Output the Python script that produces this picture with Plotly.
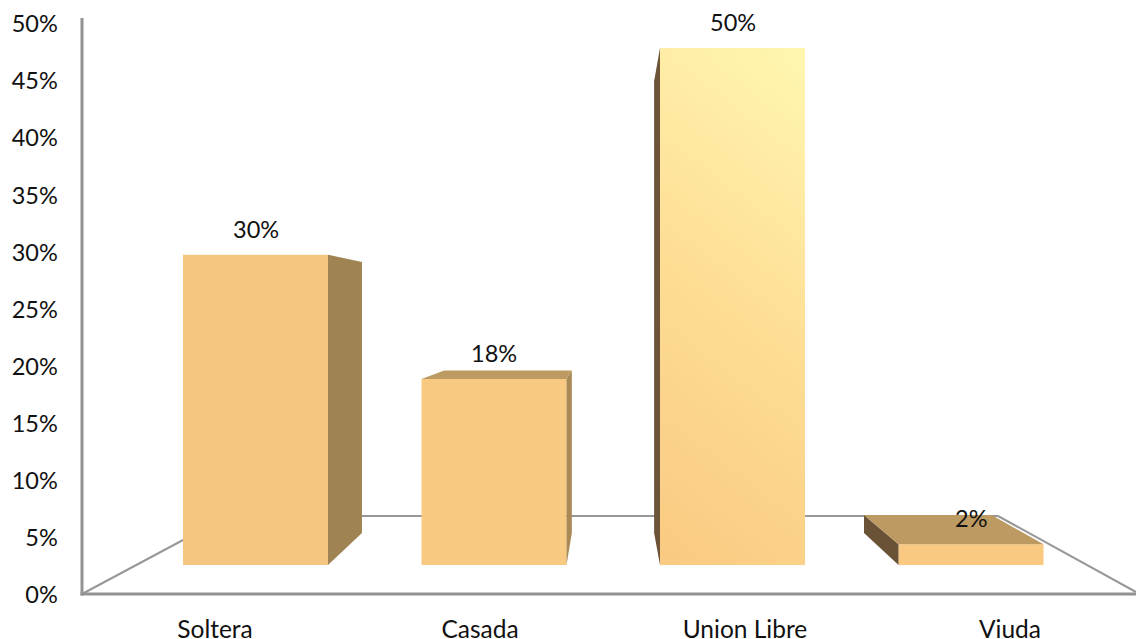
import plotly.graph_objects as go

categories = ["Soltera", "Casada", "Union Libre", "Viuda"]
values = [30, 18, 50, 2]
label_texts = ["30%", "18%", "50%", "2%"]
y_ticks = [0, 5, 10, 15, 20, 25, 30, 35, 40, 45, 50]

FONT = "Lato, Carlito, Calibri, sans-serif"
positions = list(range(len(categories)))
BAR_W = 0.608
VX, VY, KX, KY = 1.4906, 24.47, 0.88, 0.874   # vanishing point of the 3D box, in bar-axis units


def back(x, y):
    return VX + (x - VX) * KX, VY + (y - VY) * KY


front_cols = ["#F5C681", "#F8C981", "#F9C981", "#F9C981"]
side_right = ["#A08352", "#A98A55", None, None]
side_left = [None, None, "#6B5438", "#6A5236"]
top_col = "#BC9A62"

fig = go.Figure()

# invisible carrier for the category axis
fig.add_trace(go.Scatter(x=positions, y=[0] * 4, mode="markers", marker=dict(opacity=0),
                         xaxis="x", yaxis="y", showlegend=False, hoverinfo="skip"))

fig.add_trace(go.Bar(x=positions, y=values, width=BAR_W, marker=dict(color=front_cols, line=dict(width=0)),
                     xaxis="x2", yaxis="y2", showlegend=False, hoverinfo="skip"))

for i, (p, v) in enumerate(zip(positions, values)):
    l, r = p - BAR_W / 2, p + BAR_W / 2
    polys = []
    if side_right[i]:
        pts = [(r, 0), (r, v), back(r, v), back(r, 0)]
        polys.append((pts, side_right[i]))
    if side_left[i]:
        pts = [(l, 0), (l, v), back(l, v), back(l, 0)]
        polys.append((pts, side_left[i]))
    if v < VY:
        pts = [(l, v), (r, v), back(r, v), back(l, v)]
        polys.append((pts, top_col))
    for pts, col in polys:
        fig.add_trace(go.Scatter(x=[a for a, _ in pts] + [pts[0][0]], y=[b for _, b in pts] + [pts[0][1]],
                                 mode="lines", fill="toself", fillcolor=col, line=dict(width=0),
                                 xaxis="x2", yaxis="y2", showlegend=False, hoverinfo="skip"))

# light gradient on the tallest bar
ui = values.index(max(values))
l, r, v = positions[ui] - BAR_W / 2, positions[ui] + BAR_W / 2, values[ui]
nx, ny = 8, 24
gx = [l + (r - l) * k / nx for k in range(nx + 1)]
gy = [v * k / ny for k in range(ny + 1)]
gz = [[(j + .5) / ny * 0.82 + (k + .5) / nx * 0.18 for k in range(nx)] for j in range(ny)]
fig.add_trace(go.Heatmap(x=gx, y=gy, z=gz, zmin=0, zmax=1, zsmooth="best", showscale=False,
                         colorscale=[[0, "#F9C981"], [0.5, "#FEDD95"], [1, "#FFF7B0"]],
                         xaxis="x3", yaxis="y3", hoverinfo="skip"))

W, H = 1136, 639
PL, PB, PT = 82.0, 595.0, 18.0
PW, PH = W - PL, PB - PT
xr = [(PL - 215) / 265, 3 + (W - 1010) / 265]
yr = [0, (PB - PT) / 11.42]
x2r = [(PL - 255.5) / 238.5, 3 + (W - 971) / 238.5]
y2r = [-(PB - 565) / 10.34, (565 - PT) / 10.34]

GRAY = "#929292"
fx = lambda px: (px - PL) / PW
fy = lambda py: (PB - py) / PH
floor = [(82, 594), (228, 516), (998, 516), (1136, 592)]
shapes = [dict(type="line", xref="paper", yref="paper", layer="below",
               x0=fx(a[0]), y0=fy(a[1]), x1=fx(b[0]), y1=fy(b[1]),
               line=dict(color="#989898", width=2))
          for a, b in zip(floor[:-1], floor[1:])]
# axis lines
shapes += [dict(type="line", xref="paper", yref="paper", layer="below",
                x0=fx(82), y0=fy(595.5), x1=fx(82), y1=fy(18), line=dict(color=GRAY, width=3)),
           dict(type="line", xref="paper", yref="paper", layer="below",
                x0=fx(80.5), y0=fy(594), x1=1, y1=fy(594), line=dict(color=GRAY, width=3))]

annotations = [dict(x=p, y=v, xref="x3", yref="y3", text=t, showarrow=False, yshift=26,
                    font=dict(family=FONT, size=23.5, color="#111111"))
               for p, v, t in zip(positions, values, label_texts)]

fig.update_layout(
    width=W, height=H, autosize=False,
    margin=dict(l=PL, r=0, t=PT, b=H - PB, pad=0),
    paper_bgcolor="white", plot_bgcolor="white", showlegend=False,
    font=dict(family=FONT, size=23.5, color="#111111"),
    shapes=shapes, annotations=annotations,
    xaxis=dict(range=xr, tickmode="array", tickvals=positions, ticktext=categories, showgrid=False,
               zeroline=False, showline=False, automargin=False,
               ticks="outside", ticklen=13, tickcolor="rgba(0,0,0,0)",
               tickfont=dict(family=FONT, size=24.5, color="#111111")),
    yaxis=dict(range=yr, tickmode="array", tickvals=y_ticks, ticktext=[f"{t}%" for t in y_ticks],
               showgrid=False, zeroline=False, showline=False, automargin=False,
               ticks="outside", ticklen=18.5, tickcolor="rgba(0,0,0,0)",
               tickfont=dict(family=FONT, size=23.5, color="#111111")),
    xaxis2=dict(range=x2r, overlaying="x", visible=False, anchor="y2", automargin=False),
    yaxis2=dict(range=y2r, overlaying="y", visible=False, anchor="x2", automargin=False),
    xaxis3=dict(range=x2r, overlaying="x", visible=False, anchor="y3", automargin=False),
    yaxis3=dict(range=y2r, overlaying="y", visible=False, anchor="x3", automargin=False),
)

fig.write_html("out.html", config=dict(displayModeBar=False),
               post_script="document.body.style.margin='0';document.body.style.overflow='hidden';")
